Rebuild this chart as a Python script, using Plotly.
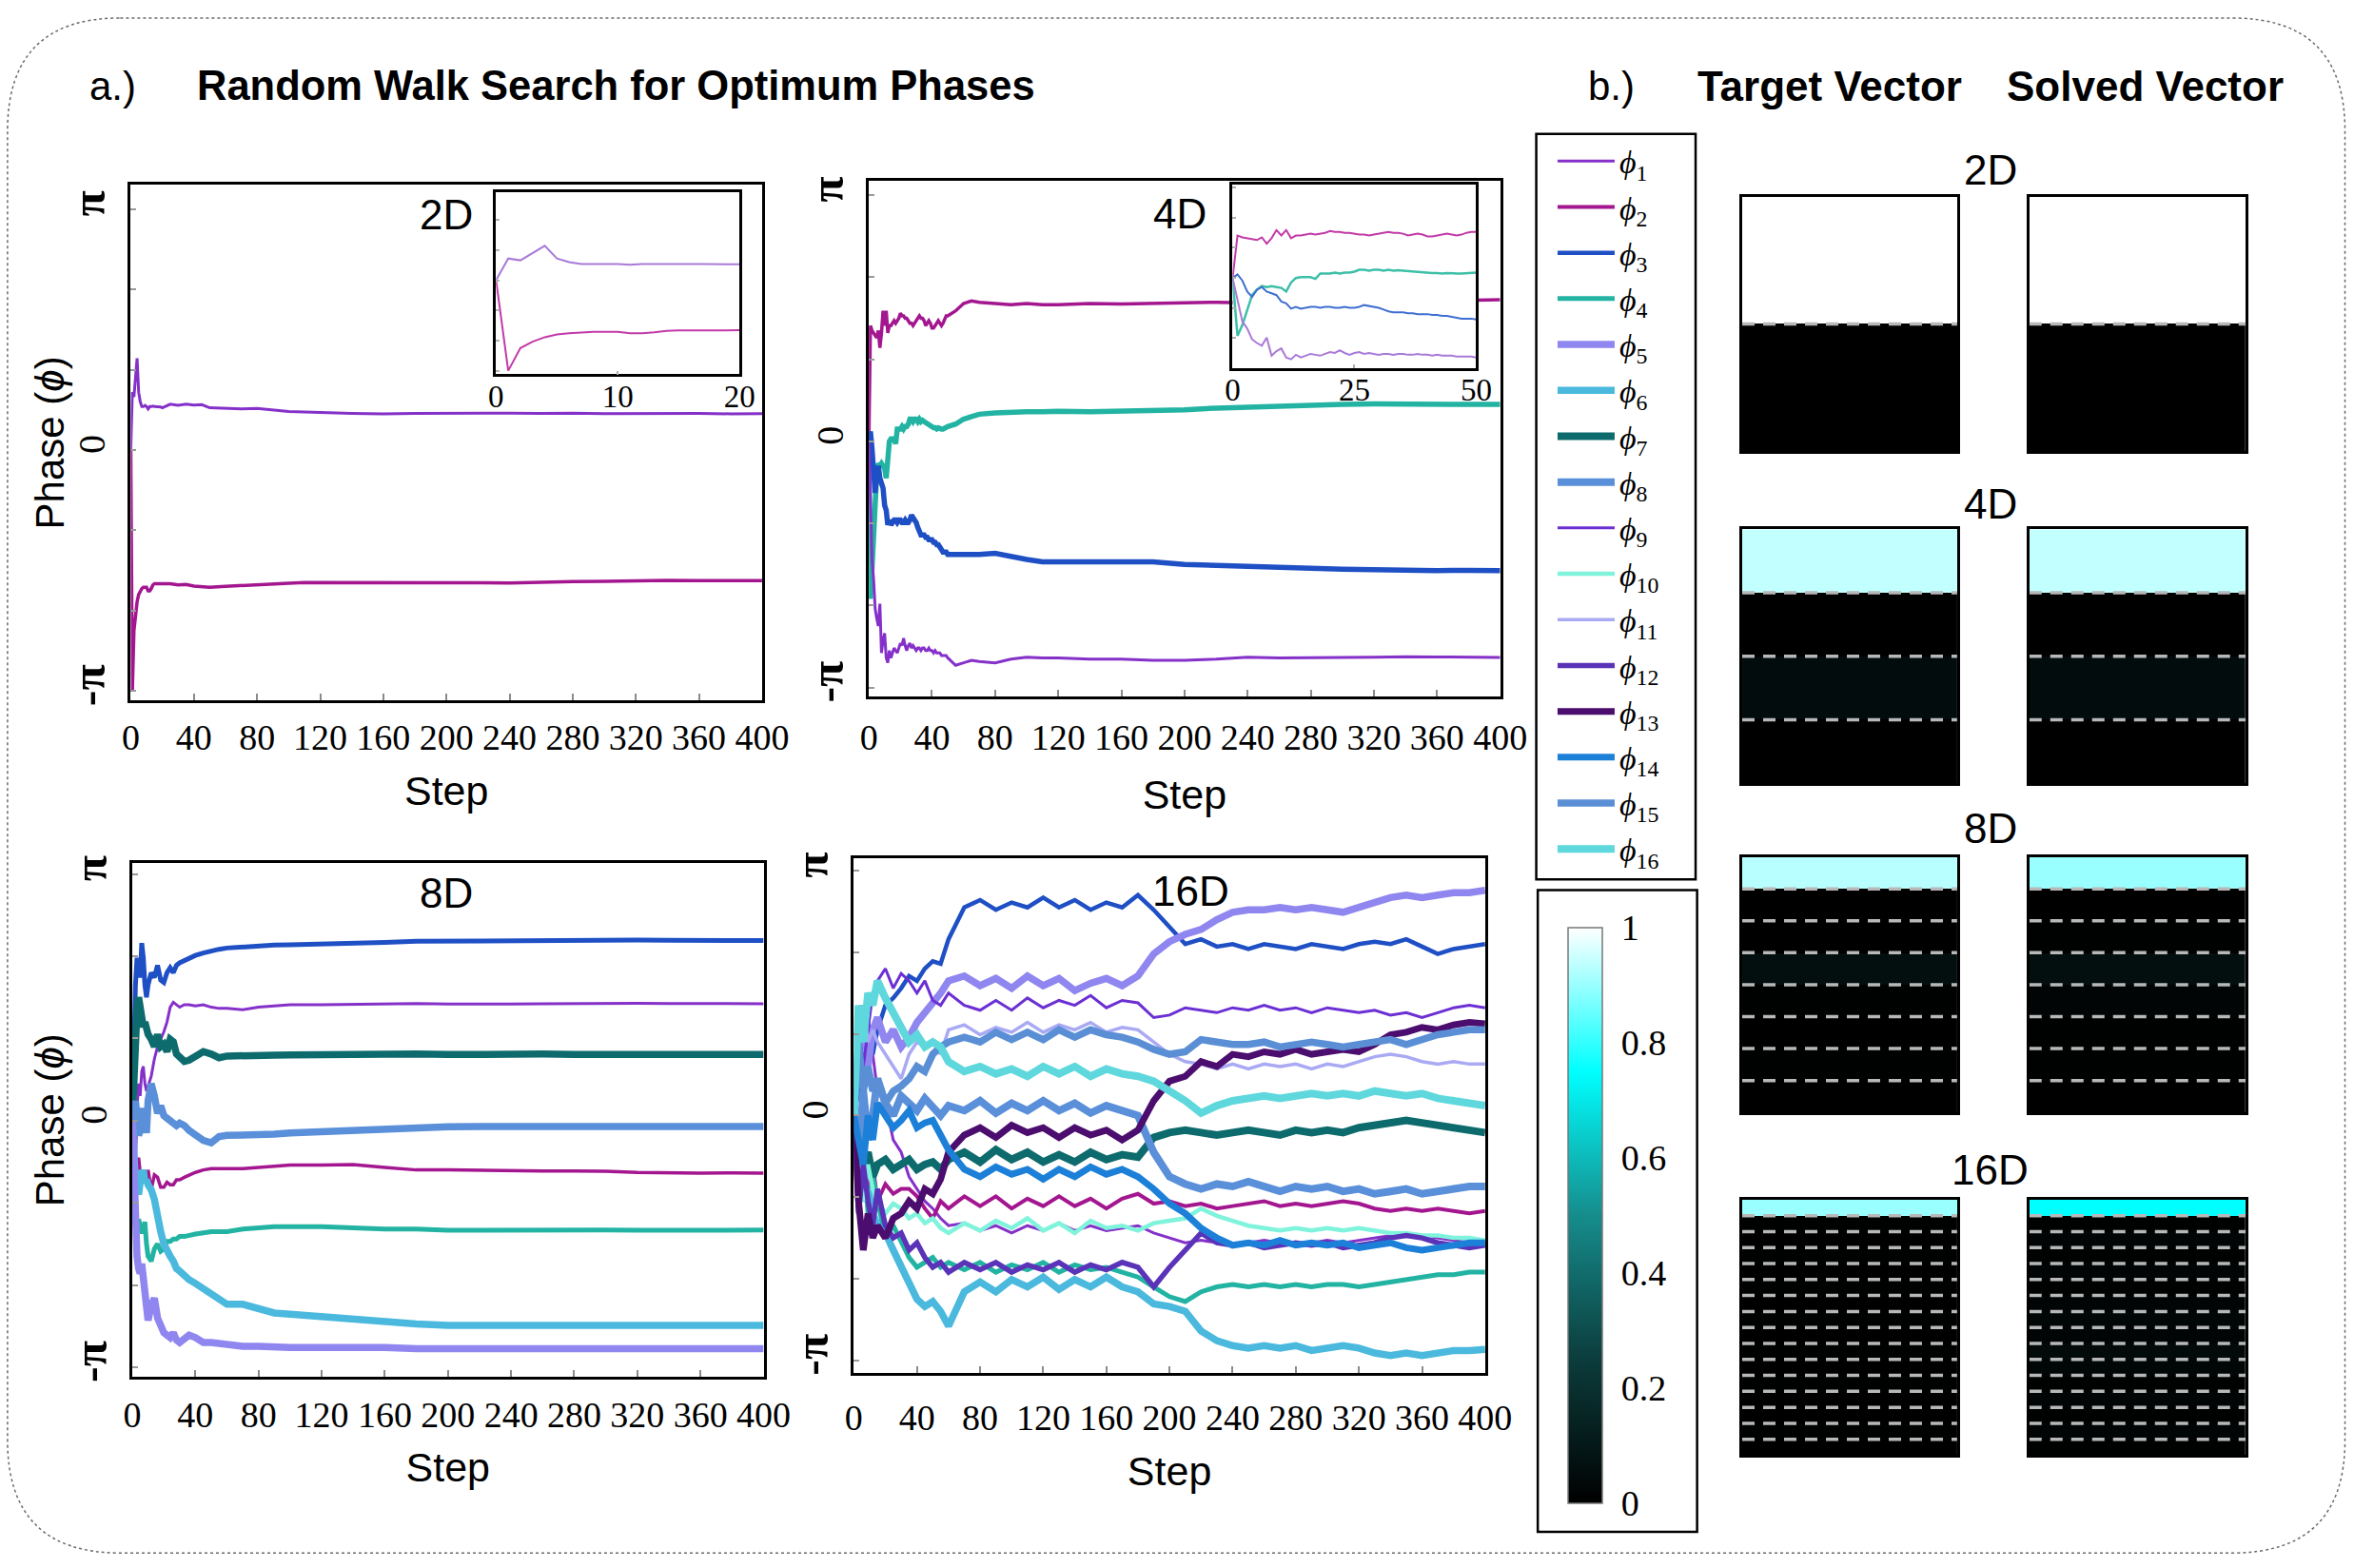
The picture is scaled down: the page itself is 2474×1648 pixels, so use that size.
import plotly.graph_objects as go

# ---------------- data (phases in units of pi) ----------------
step_ticks = [0, 40, 80, 120, 160, 200, 240, 280, 320, 360, 400]

steps_2d = [0, 1, 2, 3, 4, 5, 6, 7, 8, 9, 10, 11, 12, 13, 14, 15, 16, 17, 18, 19, 20,
            25, 30, 35, 40, 45, 50, 60, 70, 80, 90, 100, 110, 120, 130, 140,
            160, 180, 200, 220, 240, 260, 280, 300, 320, 340, 360, 380, 400]
phi2d_1 = [0.0, 0.24, 0.22, 0.30, 0.38, 0.24, 0.20, 0.18, 0.18, 0.185, 0.18, 0.17, 0.18, 0.18, 0.182, 0.18, 0.18, 0.178, 0.178, 0.178, 0.175,
           0.19, 0.185, 0.19, 0.186, 0.188, 0.175, 0.172, 0.17, 0.172, 0.165, 0.16, 0.158, 0.155, 0.154, 0.152,
           0.15, 0.152, 0.153, 0.152, 0.153, 0.152, 0.153, 0.151, 0.152, 0.151, 0.152, 0.15, 0.151]
phi2d_2 = [0.0, -1.0, -0.75, -0.68, -0.63, -0.60, -0.585, -0.575, -0.57, -0.57, -0.57, -0.585, -0.585, -0.575, -0.56, -0.555, -0.555, -0.555, -0.555, -0.553, -0.553,
           -0.555, -0.56, -0.558, -0.565, -0.568, -0.57, -0.566, -0.562, -0.558, -0.555, -0.553, -0.55, -0.55, -0.548, -0.548,
           -0.549, -0.548, -0.55, -0.551, -0.552, -0.548, -0.546, -0.545, -0.542, -0.541, -0.542, -0.541, -0.542]

steps_4d = [0, 1, 2, 3, 4, 5, 6, 7, 8, 9, 10, 11, 12, 13, 14, 15, 16, 17, 18, 19,
            20, 21, 22, 23, 24, 25, 26, 27, 28, 29, 30, 31, 32, 33, 34, 35, 36, 37, 38, 39,
            40, 41, 42, 43, 44, 45, 46, 47, 48, 49, 50,
            55, 60, 65, 70, 80, 90, 100, 110, 120, 140, 160, 180, 200, 220, 240, 260, 280, 300, 320, 340, 360, 380, 400]
phi4d_1 = [0, -0.25, -0.48, -0.56, -0.68, -0.72, -0.75, -0.66, -0.86, -0.81,
           -0.78, -0.88, -0.90, -0.85, -0.88, -0.86, -0.84, -0.85, -0.86, -0.84,
           -0.82, -0.83, -0.80, -0.83, -0.85, -0.83, -0.82, -0.84, -0.83, -0.84,
           -0.85, -0.84, -0.84, -0.85, -0.84, -0.84, -0.85, -0.85, -0.84, -0.85,
           -0.85, -0.86, -0.85, -0.86, -0.86, -0.86, -0.87, -0.87, -0.87, -0.87, -0.88,
           -0.91, -0.90, -0.89, -0.895, -0.90, -0.885, -0.877, -0.88, -0.88, -0.885, -0.885, -0.89,
           -0.89, -0.885, -0.877, -0.88, -0.88, -0.878, -0.877, -0.875, -0.876, -0.877, -0.878]
phi4d_2 = [0, 0.47, 0.45, 0.44, 0.43, 0.42, 0.45, 0.38, 0.44, 0.53,
           0.47, 0.53, 0.44, 0.47, 0.47, 0.48, 0.49, 0.48, 0.49, 0.50,
           0.52, 0.51, 0.51, 0.50, 0.50, 0.49, 0.48, 0.48, 0.47, 0.48,
           0.49, 0.50, 0.51, 0.50, 0.50, 0.49, 0.47, 0.48, 0.49, 0.48,
           0.46, 0.46, 0.47, 0.48, 0.49, 0.48, 0.47, 0.48, 0.50, 0.51, 0.51,
           0.53, 0.56, 0.57, 0.565, 0.56, 0.555, 0.56, 0.555, 0.555, 0.56, 0.558, 0.56,
           0.562, 0.565, 0.563, 0.566, 0.568, 0.57, 0.57, 0.572, 0.57, 0.574, 0.575]
phi4d_3 = [0, 0.04, -0.03, -0.15, -0.21, -0.13, -0.10, -0.15, -0.17, -0.19,
           -0.26, -0.28, -0.34, -0.32, -0.34, -0.33, -0.32, -0.32, -0.33, -0.32,
           -0.32, -0.33, -0.33, -0.32, -0.33, -0.33, -0.32, -0.30, -0.31, -0.32,
           -0.33, -0.35, -0.37, -0.38, -0.38, -0.38, -0.39, -0.39, -0.40, -0.40,
           -0.40, -0.41, -0.41, -0.42, -0.42, -0.43, -0.44, -0.45, -0.45, -0.45, -0.46,
           -0.46, -0.465, -0.46, -0.46, -0.455, -0.47, -0.48, -0.49, -0.49, -0.49, -0.495, -0.49,
           -0.50, -0.505, -0.51, -0.515, -0.52, -0.52, -0.522, -0.525, -0.525, -0.524, -0.525]
phi4d_4 = [0, -0.64, -0.52, -0.35, -0.19, -0.13, -0.09, -0.10, -0.09, -0.10,
           -0.11, -0.15, -0.05, 0.0, 0.01, 0.01, 0.01, -0.01, 0.05, 0.05,
           0.05, 0.06, 0.05, 0.06, 0.06, 0.07, 0.09, 0.09, 0.08, 0.09,
           0.09, 0.08, 0.09, 0.08, 0.085, 0.08, 0.075, 0.07, 0.07, 0.06,
           0.06, 0.055, 0.055, 0.05, 0.055, 0.05, 0.05, 0.05, 0.055, 0.055, 0.06,
           0.07, 0.09, 0.10, 0.11, 0.115, 0.12, 0.12, 0.12, 0.122, 0.12, 0.122, 0.125,
           0.128, 0.135, 0.14, 0.145, 0.15, 0.15, 0.152, 0.15, 0.152, 0.15, 0.15]

steps_8d = [0, 1, 2, 3, 4, 5, 6, 7, 8, 9, 10,
            12, 14, 16, 18, 20, 22, 24, 26, 28, 30,
            33, 36, 40, 45, 50, 55, 60,
            70, 80, 90, 100,
            120, 140, 160, 180, 200, 220, 240, 260, 280, 300, 320, 340, 360, 380, 400]
phi8d_1 = [0, -0.1, -0.2, 0.05, 0.15, 0.10, 0.2, 0.22, 0.15, 0.12, 0.14,
           0.18, 0.25, 0.30, 0.33, 0.36, 0.40, 0.46, 0.48, 0.47, 0.46,
           0.47, 0.47, 0.465, 0.47, 0.46, 0.455, 0.455,
           0.45, 0.46, 0.465, 0.47,
           0.47, 0.472, 0.473, 0.475, 0.473, 0.472, 0.473, 0.474, 0.475, 0.475, 0.476, 0.475, 0.474, 0.474, 0.474]
phi8d_2 = [0, -0.2, -0.4, -0.25, -0.15, -0.21, -0.24, -0.25, -0.20, -0.25, -0.20,
           -0.28, -0.22, -0.23, -0.27, -0.27, -0.25, -0.26, -0.26, -0.24, -0.24,
           -0.23, -0.22, -0.21, -0.20, -0.195, -0.195, -0.195,
           -0.195, -0.19, -0.185, -0.18,
           -0.18, -0.178, -0.19, -0.2, -0.2, -0.202, -0.203, -0.204, -0.204, -0.205, -0.21, -0.213, -0.213, -0.212, -0.213]
phi8d_3 = [0, 0.35, 0.55, 0.66, 0.60, 0.58, 0.72, 0.66, 0.55, 0.50, 0.55,
           0.60, 0.58, 0.63, 0.57, 0.56, 0.60, 0.62, 0.60, 0.63, 0.64,
           0.65, 0.66, 0.67, 0.68, 0.69, 0.695, 0.70,
           0.705, 0.71, 0.712, 0.713,
           0.715, 0.72, 0.723, 0.727, 0.728, 0.73, 0.73, 0.728, 0.73, 0.73, 0.732, 0.731, 0.73, 0.731, 0.73]
phi8d_4 = [0, -0.2, -0.3, -0.45, -0.4, -0.42, -0.45, -0.45, -0.41, -0.50, -0.55,
           -0.57, -0.52, -0.50, -0.53, -0.52, -0.49, -0.49, -0.48, -0.48, -0.47,
           -0.47, -0.465, -0.46, -0.455, -0.45, -0.45, -0.45,
           -0.44, -0.435, -0.43, -0.43,
           -0.43, -0.435, -0.44, -0.44, -0.445, -0.445, -0.444, -0.445, -0.444, -0.444, -0.445, -0.445, -0.445, -0.444, -0.444]
phi8d_5 = [0, -0.2, -0.49, -0.55, -0.60, -0.62, -0.58, -0.66, -0.70, -0.75, -0.81,
           -0.75, -0.72, -0.80, -0.84, -0.86, -0.87, -0.88, -0.86, -0.89, -0.90,
           -0.88, -0.87, -0.88, -0.90, -0.90, -0.905, -0.91,
           -0.915, -0.915, -0.92, -0.92,
           -0.92, -0.918, -0.92, -0.925, -0.925, -0.925, -0.925, -0.925, -0.925, -0.924, -0.925, -0.925, -0.925, -0.925, -0.925]
phi8d_6 = [0, -0.1, -0.25, -0.2, -0.3, -0.25, -0.2, -0.2, -0.25, -0.24, -0.26,
           -0.28, -0.32, -0.40, -0.45, -0.50, -0.53, -0.55, -0.57, -0.60, -0.61,
           -0.63, -0.645, -0.66, -0.68, -0.70, -0.72, -0.745,
           -0.745, -0.76, -0.78, -0.785,
           -0.795, -0.81, -0.82, -0.825, -0.83, -0.83, -0.83, -0.828, -0.83, -0.835, -0.835, -0.83, -0.83, -0.83, -0.83]
phi8d_7 = [0, 0.2, 0.42, 0.45, 0.50, 0.47, 0.44, 0.38, 0.40, 0.36, 0.35,
           0.33, 0.30, 0.35, 0.30, 0.31, 0.28, 0.33, 0.32, 0.27, 0.26,
           0.24, 0.245, 0.26, 0.28, 0.27, 0.255, 0.262,
           0.265, 0.262, 0.265, 0.266,
           0.268, 0.27, 0.268, 0.27, 0.268, 0.27, 0.268, 0.27, 0.268, 0.267, 0.268, 0.268, 0.268, 0.267, 0.268]
phi8d_8 = [0, 0.05, 0.08, 0.02, -0.06, -0.04, 0.03, 0.05, 0.0, -0.05, 0.08,
           0.15, 0.10, 0.03, 0.06, 0.02, 0.01, 0.0, -0.01, -0.02, -0.01,
           -0.02, -0.04, -0.06, -0.08, -0.09, -0.065, -0.06,
           -0.06, -0.058, -0.055, -0.05,
           -0.045, -0.035, -0.03, -0.025, -0.025, -0.024, -0.024, -0.025, -0.024, -0.024, -0.022, -0.023, -0.023, -0.023, -0.024]

steps_16d = [0, 3, 6, 9, 12, 15, 20, 25, 30, 35, 40, 45, 50, 55, 60,
             70, 80, 90, 100, 110, 120, 130, 140, 150, 160,
             170, 180, 190, 200, 210, 220, 230, 240, 250, 260,
             270, 280, 290, 300, 310, 320, 330, 340, 350, 360,
             370, 380, 390, 400]
phi16_1 = [0, 0.3, 0.1, 0.4, 0.25, 0.1, 0.05, -0.1, -0.15, -0.25, -0.3, -0.35, -0.38, -0.42, -0.45,
           -0.44, -0.47, -0.45, -0.48, -0.45, -0.47, -0.44, -0.47, -0.45, -0.47,
           -0.46, -0.45, -0.48, -0.50, -0.52, -0.51, -0.52, -0.53, -0.52, -0.51,
           -0.52, -0.53, -0.52, -0.51, -0.52, -0.51, -0.50, -0.49, -0.48, -0.49,
           -0.50, -0.51, -0.52, -0.52]
phi16_2 = [0, -0.25, -0.1, -0.3, -0.2, -0.35, -0.28, -0.32, -0.30, -0.30, -0.33, -0.38, -0.42, -0.35, -0.38,
           -0.33, -0.37, -0.33, -0.38, -0.34, -0.37, -0.33, -0.37, -0.34, -0.38,
           -0.34, -0.32, -0.36, -0.35, -0.37, -0.36, -0.38, -0.37, -0.36, -0.35,
           -0.37, -0.36, -0.37, -0.36, -0.35, -0.36, -0.38, -0.39, -0.38, -0.39,
           -0.38, -0.39, -0.40, -0.39]
phi16_3 = [0, 0.1, 0.2, 0.3, 0.25, 0.35, 0.45, 0.48, 0.52, 0.57, 0.55, 0.60, 0.63, 0.62, 0.72,
           0.85, 0.88, 0.84, 0.87, 0.85, 0.89, 0.85, 0.88, 0.84, 0.87,
           0.85, 0.90, 0.84, 0.77, 0.70, 0.72, 0.69, 0.70, 0.68, 0.70,
           0.69, 0.68, 0.70, 0.69, 0.68, 0.70, 0.71, 0.70, 0.72, 0.69,
           0.66, 0.68, 0.69, 0.70]
phi16_4 = [0, -0.3, -0.15, -0.4, -0.25, -0.35, -0.5, -0.45, -0.52, -0.58, -0.62, -0.60, -0.58, -0.62, -0.60,
           -0.63, -0.60, -0.64, -0.61, -0.63, -0.60, -0.64, -0.61, -0.63, -0.62,
           -0.64, -0.66, -0.70, -0.74, -0.76, -0.72, -0.70, -0.69, -0.70, -0.69,
           -0.70, -0.69, -0.70, -0.69, -0.69, -0.70, -0.69, -0.68, -0.67, -0.66,
           -0.65, -0.65, -0.64, -0.64]
phi16_5 = [0, 0.3, 0.45, 0.2, 0.35, 0.4, 0.3, 0.35, 0.28, 0.32, 0.38, 0.42, 0.45, 0.50, 0.55,
           0.57, 0.53, 0.56, 0.52, 0.57, 0.53, 0.56, 0.51, 0.54, 0.56,
           0.53, 0.57, 0.66, 0.71, 0.74, 0.76, 0.80, 0.83, 0.84, 0.84,
           0.85, 0.84, 0.85, 0.84, 0.83, 0.85, 0.87, 0.89, 0.90, 0.89,
           0.90, 0.91, 0.91, 0.92]
phi16_6 = [0, -0.2, -0.35, -0.3, -0.4, -0.45, -0.48, -0.55, -0.62, -0.68, -0.75, -0.78, -0.76, -0.80, -0.86,
           -0.72, -0.68, -0.72, -0.67, -0.70, -0.66, -0.71, -0.67, -0.70, -0.66,
           -0.70, -0.72, -0.77, -0.78, -0.80, -0.88, -0.92, -0.94, -0.95, -0.94,
           -0.95, -0.94, -0.96, -0.95, -0.94, -0.95, -0.97, -0.98, -0.97, -0.98,
           -0.97, -0.96, -0.96, -0.955]
phi16_7 = [0, -0.1, -0.2, -0.15, -0.25, -0.2, -0.18, -0.22, -0.20, -0.18, -0.22, -0.20, -0.19, -0.22, -0.18,
           -0.15, -0.19, -0.14, -0.18, -0.15, -0.19, -0.16, -0.19, -0.15, -0.18,
           -0.16, -0.17, -0.09, -0.07, -0.06, -0.07, -0.08, -0.07, -0.06, -0.07,
           -0.08, -0.06, -0.07, -0.06, -0.07, -0.05, -0.04, -0.03, -0.02, -0.03,
           -0.04, -0.05, -0.06, -0.07]
phi16_8 = [0, -0.2, 0.1, -0.1, 0.0, 0.15, 0.05, 0.0, 0.08, 0.05, 0.02, 0.07, 0.03, 0.0, 0.04,
           0.02, 0.06, 0.01, 0.05, 0.02, 0.06, 0.02, 0.05, 0.01, 0.04,
           0.02, 0.0, -0.15, -0.25, -0.28, -0.30, -0.28, -0.29, -0.27, -0.29,
           -0.31, -0.29, -0.30, -0.29, -0.31, -0.30, -0.32, -0.31, -0.30, -0.32,
           -0.31, -0.30, -0.29, -0.29]
phi16_9 = [0, 0.4, 0.2, 0.35, 0.5, 0.55, 0.6, 0.52, 0.58, 0.55, 0.5, 0.55, 0.47, 0.45, 0.5,
           0.45, 0.43, 0.47, 0.43, 0.48, 0.44, 0.47, 0.45, 0.49, 0.44,
           0.47, 0.46, 0.40, 0.41, 0.44, 0.43, 0.42, 0.44, 0.43, 0.45,
           0.43, 0.44, 0.42, 0.44, 0.43, 0.42, 0.43, 0.41, 0.42, 0.40,
           0.42, 0.44, 0.45, 0.44]
phi16_10 = [0, -0.15, -0.35, -0.2, -0.3, -0.35, -0.40, -0.36, -0.38, -0.42, -0.40, -0.44, -0.42, -0.46, -0.48,
            -0.44, -0.47, -0.43, -0.46, -0.42, -0.47, -0.44, -0.48, -0.43, -0.46,
            -0.45, -0.47, -0.44, -0.43, -0.42, -0.38, -0.41, -0.43, -0.45, -0.46,
            -0.47, -0.46, -0.47, -0.46, -0.47, -0.46, -0.47, -0.48, -0.48, -0.49,
            -0.49, -0.50, -0.50, -0.51]
phi16_11 = [0, 0.2, 0.45, 0.3, 0.35, 0.3, 0.25, 0.2, 0.15, 0.25, 0.3, 0.28, 0.30, 0.25, 0.35,
            0.37, 0.33, 0.36, 0.34, 0.38, 0.34, 0.37, 0.35, 0.38, 0.34,
            0.36, 0.35, 0.30, 0.25, 0.22, 0.21, 0.19, 0.21, 0.19, 0.21,
            0.20, 0.21, 0.19, 0.21, 0.20, 0.22, 0.24, 0.25, 0.24, 0.22,
            0.21, 0.22, 0.21, 0.21]
phi16_12 = [0, -0.4, -0.2, -0.35, -0.45, -0.3, -0.45, -0.50, -0.48, -0.55, -0.52, -0.58, -0.62, -0.60, -0.64,
            -0.60, -0.63, -0.60, -0.64, -0.61, -0.63, -0.60, -0.64, -0.61, -0.63,
            -0.60, -0.62, -0.70, -0.62, -0.55, -0.48, -0.52, -0.53, -0.52, -0.54,
            -0.53, -0.52, -0.53, -0.52, -0.54, -0.53, -0.52, -0.50, -0.49, -0.50,
            -0.52, -0.53, -0.54, -0.53]
phi16_13 = [0, -0.35, -0.55, -0.4, -0.5, -0.45, -0.5, -0.42, -0.40, -0.35, -0.38, -0.30, -0.32, -0.26, -0.15,
            -0.08, -0.05, -0.09, -0.04, -0.07, -0.05, -0.09, -0.05, -0.08, -0.06,
            -0.10, -0.06, 0.06, 0.14, 0.16, 0.22, 0.20, 0.25, 0.24, 0.26,
            0.25, 0.27, 0.25, 0.26, 0.27, 0.26, 0.29, 0.33, 0.34, 0.36,
            0.35, 0.37, 0.38, 0.375]
phi16_14 = [0, -0.1, -0.2, 0.0, -0.1, 0.05, 0.0, -0.05, -0.02, 0.02, -0.05, -0.03, -0.02, -0.08, -0.14,
            -0.22, -0.25, -0.21, -0.24, -0.22, -0.26, -0.22, -0.25, -0.21, -0.24,
            -0.22, -0.25, -0.30, -0.36, -0.40, -0.46, -0.50, -0.53, -0.52, -0.53,
            -0.51, -0.53, -0.52, -0.53, -0.52, -0.54, -0.53, -0.52, -0.54, -0.55,
            -0.54, -0.53, -0.52, -0.52]
phi16_15 = [0, 0.3, 0.1, 0.2, 0.1, 0.15, 0.05, 0.1, 0.12, 0.15, 0.20, 0.18, 0.25, 0.28, 0.30,
            0.32, 0.30, 0.34, 0.31, 0.34, 0.31, 0.35, 0.32, 0.35, 0.33,
            0.32, 0.30, 0.27, 0.25, 0.26, 0.31, 0.30, 0.29, 0.29, 0.30,
            0.28, 0.29, 0.30, 0.29, 0.28, 0.29, 0.30, 0.31, 0.29, 0.31,
            0.33, 0.34, 0.35, 0.35]
phi16_16 = [0, 0.45, 0.3, 0.5, 0.45, 0.55, 0.48, 0.42, 0.35, 0.30, 0.33, 0.28, 0.30, 0.28, 0.22,
            0.18, 0.20, 0.17, 0.19, 0.16, 0.20, 0.17, 0.20, 0.16, 0.19,
            0.17, 0.16, 0.14, 0.10, 0.06, 0.01, 0.04, 0.06, 0.07, 0.08,
            0.07, 0.08, 0.09, 0.08, 0.09, 0.08, 0.10, 0.09, 0.08, 0.09,
            0.07, 0.06, 0.05, 0.04]

# target / solved vectors (normalised intensity per component)
target_2d = [1.0, 0.0]
solved_2d = [1.0, 0.0]
target_4d = [0.94, 0.0, 0.05, 0.0]
solved_4d = [0.94, 0.0, 0.05, 0.0]
target_8d = [0.93, 0.0, 0.0, 0.06, 0.01, 0.0, 0.01, 0.0]
solved_8d = [0.90, 0.0, 0.01, 0.06, 0.02, 0.01, 0.01, 0.0]
target_16d = [0.90, 0.01, 0.0, 0.01, 0.0, 0.01, 0.0, 0.01, 0.0, 0.01, 0.0, 0.01, 0.0, 0.0, 0.01, 0.0]
solved_16d = [0.75, 0.01, 0.02, 0.01, 0.02, 0.01, 0.02, 0.03, 0.02, 0.04, 0.03, 0.01, 0.02, 0.01, 0.02, 0.01]

colorbar_ticks = [0, 0.2, 0.4, 0.6, 0.8, 1]
phase_tick_vals = [-1, -2 / 3, -1 / 3, 0, 1 / 3, 2 / 3, 1]
phase_tick_text = ['<span style="font-size:50px"><b>-π</b></span>', '', '', '0', '', '',
                   '<span style="font-size:50px"><b>π</b></span>']

# ---------------- styles ----------------
COL = {1: '#8531c9', 2: '#a3168f', 3: '#1f4fc4', 4: '#22b3a3', 5: '#8f86f0', 6: '#4bb9dd',
       7: '#0e6b6d', 8: '#5a8fd9', 9: '#6b2fd3', 10: '#7ff3dc', 11: '#a9a9f4', 12: '#5b33b8',
       13: '#4b0d6e', 14: '#1c80d8', 15: '#5a8fd6', 16: '#5ed8dc'}
LW16 = {1: 3, 2: 4, 3: 4.5, 4: 5, 5: 7.5, 6: 7.5, 7: 8, 8: 8, 9: 3, 10: 4.5, 11: 3.5,
        12: 5.5, 13: 7, 14: 7, 15: 7.5, 16: 8}
INSET_COL = {1: '#a97ad8', 2: '#c23aa8', 3: '#3f6fd0', 4: '#3dbfa8'}

SANS = 'Liberation Sans, Arial'
SERIF = 'Liberation Serif, DejaVu Serif, Times New Roman, serif'

DW, DH = 1566.0, 1043.0


def fx(x):
    return x / DW


def fy(y):
    return 1.0 - y / DH


fig = go.Figure()


def add_series(steps, series, idxs, xa, ya, colors, widths, legend=False):
    for k, vals in zip(idxs, series):
        fig.add_trace(go.Scatter(
            x=steps, y=vals, mode='lines', xaxis=xa, yaxis=ya,
            line=dict(color=colors[k], width=widths[k]),
            name='<i>ϕ</i><sub>%d</sub>' % k, showlegend=legend,
            legendgroup='g%d' % k, hoverinfo='skip'))


# main panels
add_series(steps_2d, [phi2d_1, phi2d_2], [1, 2], 'x', 'y', COL, {1: 3, 2: 3.5})
add_series(steps_4d, [phi4d_2, phi4d_4, phi4d_3, phi4d_1], [2, 4, 3, 1],
           'x3', 'y3', COL, {1: 3, 2: 3.5, 3: 5.5, 4: 5.5})
add_series(steps_8d, [phi8d_3, phi8d_1, phi8d_7, phi8d_8, phi8d_2, phi8d_4, phi8d_6, phi8d_5],
           [3, 1, 7, 8, 2, 4, 6, 5], 'x5', 'y5', COL,
           {1: 3, 2: 3.5, 3: 5, 4: 5, 5: 7.5, 6: 7.5, 7: 7.5, 8: 7.5})
add_series(steps_16d,
           [phi16_1, phi16_2, phi16_3, phi16_4, phi16_5, phi16_6, phi16_7, phi16_8,
            phi16_9, phi16_10, phi16_11, phi16_12, phi16_13, phi16_14, phi16_15, phi16_16],
           list(range(1, 17)), 'x6', 'y6', COL, LW16, legend=True)

# insets (first steps of the same runs)
add_series(steps_2d[:21], [phi2d_1[:21], phi2d_2[:21]], [1, 2], 'x2', 'y2', INSET_COL, {1: 2, 2: 2})
add_series(steps_4d[:51], [phi4d_2[:51], phi4d_4[:51], phi4d_3[:51], phi4d_1[:51]], [2, 4, 3, 1],
           'x4', 'y4', INSET_COL, {1: 2, 2: 2, 3: 2, 4: 2.5})

layout_axes = {}
annotations = []


def main_axes(n, box, yrange, ytitle, label_pad, title_pad):
    x0, x1, y0, y1 = box
    xa = dict(domain=[fx(x0), fx(x1)], anchor='y%d' % n, range=[0, 400], automargin=False,
              tickvals=step_ticks, ticktext=[str(t) for t in step_ticks],
              ticks='inside', ticklen=7, tickwidth=2, tickcolor='#8a8a8a',
              ticklabelstandoff=label_pad,
              tickfont=dict(family=SERIF, size=38, color='black'),
              showline=True, linewidth=3, linecolor='black', mirror=True,
              showgrid=False, zeroline=False,
              title=dict(text='Step', font=dict(family=SANS, size=43, color='black'), standoff=title_pad))
    ya = dict(domain=[fy(y1), fy(y0)], anchor='x%d' % n, range=yrange, automargin=False,
              tickvals=phase_tick_vals, ticktext=phase_tick_text, tickangle=-90,
              ticks='inside', ticklen=6, tickwidth=2, tickcolor='#9a9a9a',
              ticklabelstandoff=8,
              tickfont=dict(family=SERIF, size=40, color='black'),
              showline=True, linewidth=3, linecolor='black', mirror=True,
              showgrid=False, zeroline=False)
    if ytitle:
        annotations.append(dict(text='Phase (<i>ϕ</i>)', textangle=-90, x=fx(33), y=fy((y0 + y1) / 2),
                                xref='paper', yref='paper', showarrow=False,
                                xanchor='center', yanchor='middle',
                                font=dict(family=SANS, size=42, color='black')))
    key = '' if n == 1 else str(n)
    layout_axes['xaxis' + key] = xa
    layout_axes['yaxis' + key] = ya


def inset_axes(n, box, xmax, xt, yrange):
    x0, x1, y0, y1 = box
    layout_axes['xaxis%d' % n] = dict(
        domain=[fx(x0), fx(x1)], anchor='y%d' % n, range=[0, xmax], tickvals=xt, automargin=False,
        ticks='inside', ticklen=4, tickwidth=1.5, tickcolor='#b0b0b0', ticklabelstandoff=-8,
        tickfont=dict(family=SERIF, size=33, color='black'),
        showline=True, linewidth=2.5, linecolor='black', mirror=True,
        showgrid=False, zeroline=False)
    layout_axes['yaxis%d' % n] = dict(
        domain=[fy(y1), fy(y0)], anchor='x%d' % n, range=yrange, tickvals=phase_tick_vals,
        automargin=False,
        showticklabels=False, ticks='inside', ticklen=4, tickwidth=1.5, tickcolor='#b0b0b0',
        showline=True, linewidth=2.5, linecolor='black', mirror=True,
        showgrid=False, zeroline=False)


main_axes(1, (87, 507, 123, 466), [-1.04, 1.10], True, 3, 21)
inset_axes(2, (330, 492, 128, 249), 20, [0, 10, 20], [-1.04, 0.97])
main_axes(3, (578, 998, 120, 463), [-1.035, 1.06], False, 8, 25)
inset_axes(4, (820, 982, 123, 245), 50, [0, 25, 50], [-1.0, 1.03])
main_axes(5, (88, 508, 574, 916), [-1.04, 1.045], True, 4, 20)
main_axes(6, (568, 988, 571, 913), [-1.05, 1.05], False, 12, 21)

# vector heatmaps
shapes = []
vec_rows = [('2D', target_2d, solved_2d, 131, 300, 113),
            ('4D', target_4d, solved_4d, 352, 521, 335),
            ('8D', target_8d, solved_8d, 570, 740, 551),
            ('16D', target_16d, solved_16d, 798, 968, 778)]
col_x = [(1159, 1302), (1350, 1494)]
n = 7
for label, tvec, svec, ytop, ybot, ylab in vec_rows:
    annotations.append(dict(text=label, x=fx(1324), y=fy(ylab), xref='paper', yref='paper',
                            showarrow=False, xanchor='center', yanchor='middle',
                            font=dict(family=SANS, size=44, color='black')))
    for (xl, xr), vec in zip(col_x, [tvec, svec]):
        N = len(vec)
        fig.add_trace(go.Heatmap(z=[[v] for v in vec], x=[0], y=list(range(N)),
                                 coloraxis='coloraxis', xaxis='x%d' % n, yaxis='y%d' % n,
                                 hoverinfo='skip'))
        layout_axes['xaxis%d' % n] = dict(domain=[fx(xl), fx(xr)], anchor='y%d' % n, range=[-0.5, 0.5],
                                          automargin=False,
                                          showticklabels=False, ticks='', showgrid=False, zeroline=False,
                                          showline=True, mirror=True, linecolor='black', linewidth=2.5)
        layout_axes['yaxis%d' % n] = dict(domain=[fy(ybot), fy(ytop)], anchor='x%d' % n,
                                          range=[N - 0.5, -0.5], automargin=False,
                                          showticklabels=False, ticks='', showgrid=False, zeroline=False,
                                          showline=True, mirror=True, linecolor='black', linewidth=2.5)
        for i in range(1, N):
            shapes.append(dict(type='line', xref='x%d' % n, yref='y%d' % n,
                               x0=-0.5, x1=0.5, y0=i - 0.5, y1=i - 0.5,
                               line=dict(color='#b8b8b8', width=3.5, dash='13px,9px'), layer='above'))
        n += 1


# text annotations
def ann(text, x, y, size, bold=False, anchor='left'):
    annotations.append(dict(text='<b>%s</b>' % text if bold else text, x=fx(x), y=fy(y),
                            xref='paper', yref='paper', showarrow=False, xanchor=anchor,
                            yanchor='middle', font=dict(family=SANS, size=size, color='black')))


ann('a.)', 58, 57, 42)
ann('Random Walk Search for Optimum Phases', 130, 57, 43.5, bold=True)
ann('b.)', 1055, 57, 42)
ann('Target Vector', 1217, 57, 44, bold=True, anchor='center')
ann('Solved Vector', 1427, 57, 44, bold=True, anchor='center')
ann('2D', 297, 143, 44, anchor='center')
ann('4D', 785, 142, 44, anchor='center')
ann('8D', 297, 594, 44, anchor='center')
ann('16D', 792, 593, 44, anchor='center')

# outer rounded dashed frame
x0, x1, yt, yb = fx(5), fx(1560), fy(12), fy(1033)
rx, ry = 75 / DW, 75 / DH
frame = ('M %f,%f L %f,%f Q %f,%f %f,%f L %f,%f Q %f,%f %f,%f L %f,%f Q %f,%f %f,%f L %f,%f Q %f,%f %f,%f Z'
         % (x0 + rx, yt, x1 - rx, yt, x1, yt, x1, yt - ry, x1, yb + ry, x1, yb, x1 - rx, yb,
            x0 + rx, yb, x0, yb, x0, yb + ry, x0, yt - ry, x0, yt, x0 + rx, yt))
shapes.append(dict(type='path', path=frame, xref='paper', yref='paper',
                   line=dict(color='#6a6a6a', width=1.5, dash='dot')))
# legend and colorbar frames
shapes.append(dict(type='rect', xref='paper', yref='paper', x0=fx(1022), x1=fx(1128),
                   y0=fy(585), y1=fy(89), line=dict(color='black', width=2.5)))
shapes.append(dict(type='rect', xref='paper', yref='paper', x0=fx(1023), x1=fx(1129),
                   y0=fy(1019), y1=fy(592), line=dict(color='black', width=2.5)))

fig.update_layout(
    width=2474, height=1648, margin=dict(l=0, r=0, t=0, b=0, autoexpand=False),
    paper_bgcolor='white', plot_bgcolor='white',
    showlegend=True,
    legend=dict(x=fx(1033), y=fy(89), xanchor='left', yanchor='top', xref='paper', yref='paper',
                bgcolor='rgba(0,0,0,0)', borderwidth=0, traceorder='grouped', tracegroupgap=1,
                itemwidth=60,
                font=dict(family=SERIF, size=34, color='black')),
    coloraxis=dict(cmin=0, cmax=1,
                   colorscale=[[0, '#000000'], [0.25, '#0c3c3c'], [0.5, '#168c8c'],
                               [0.75, '#00ffff'], [1, '#ffffff']],
                   colorbar=dict(x=fx(1043), xanchor='left', y=fy(1000), yanchor='bottom',
                                 len=(1000 - 617) / DH, lenmode='fraction',
                                 thickness=36, thicknessmode='pixels',
                                 xpad=0, ypad=0, outlinewidth=1.5, outlinecolor='#777777',
                                 tickvals=colorbar_ticks, ticks='outside', ticklen=12,
                                 tickcolor='rgba(0,0,0,0)',
                                 tickfont=dict(family=SERIF, size=38, color='black'))),
    shapes=shapes, annotations=annotations,
    **layout_axes)

fig.write_html('out.html', config={'displayModeBar': False},
               post_script="document.body.style.margin='0';document.body.style.overflow='hidden';")
